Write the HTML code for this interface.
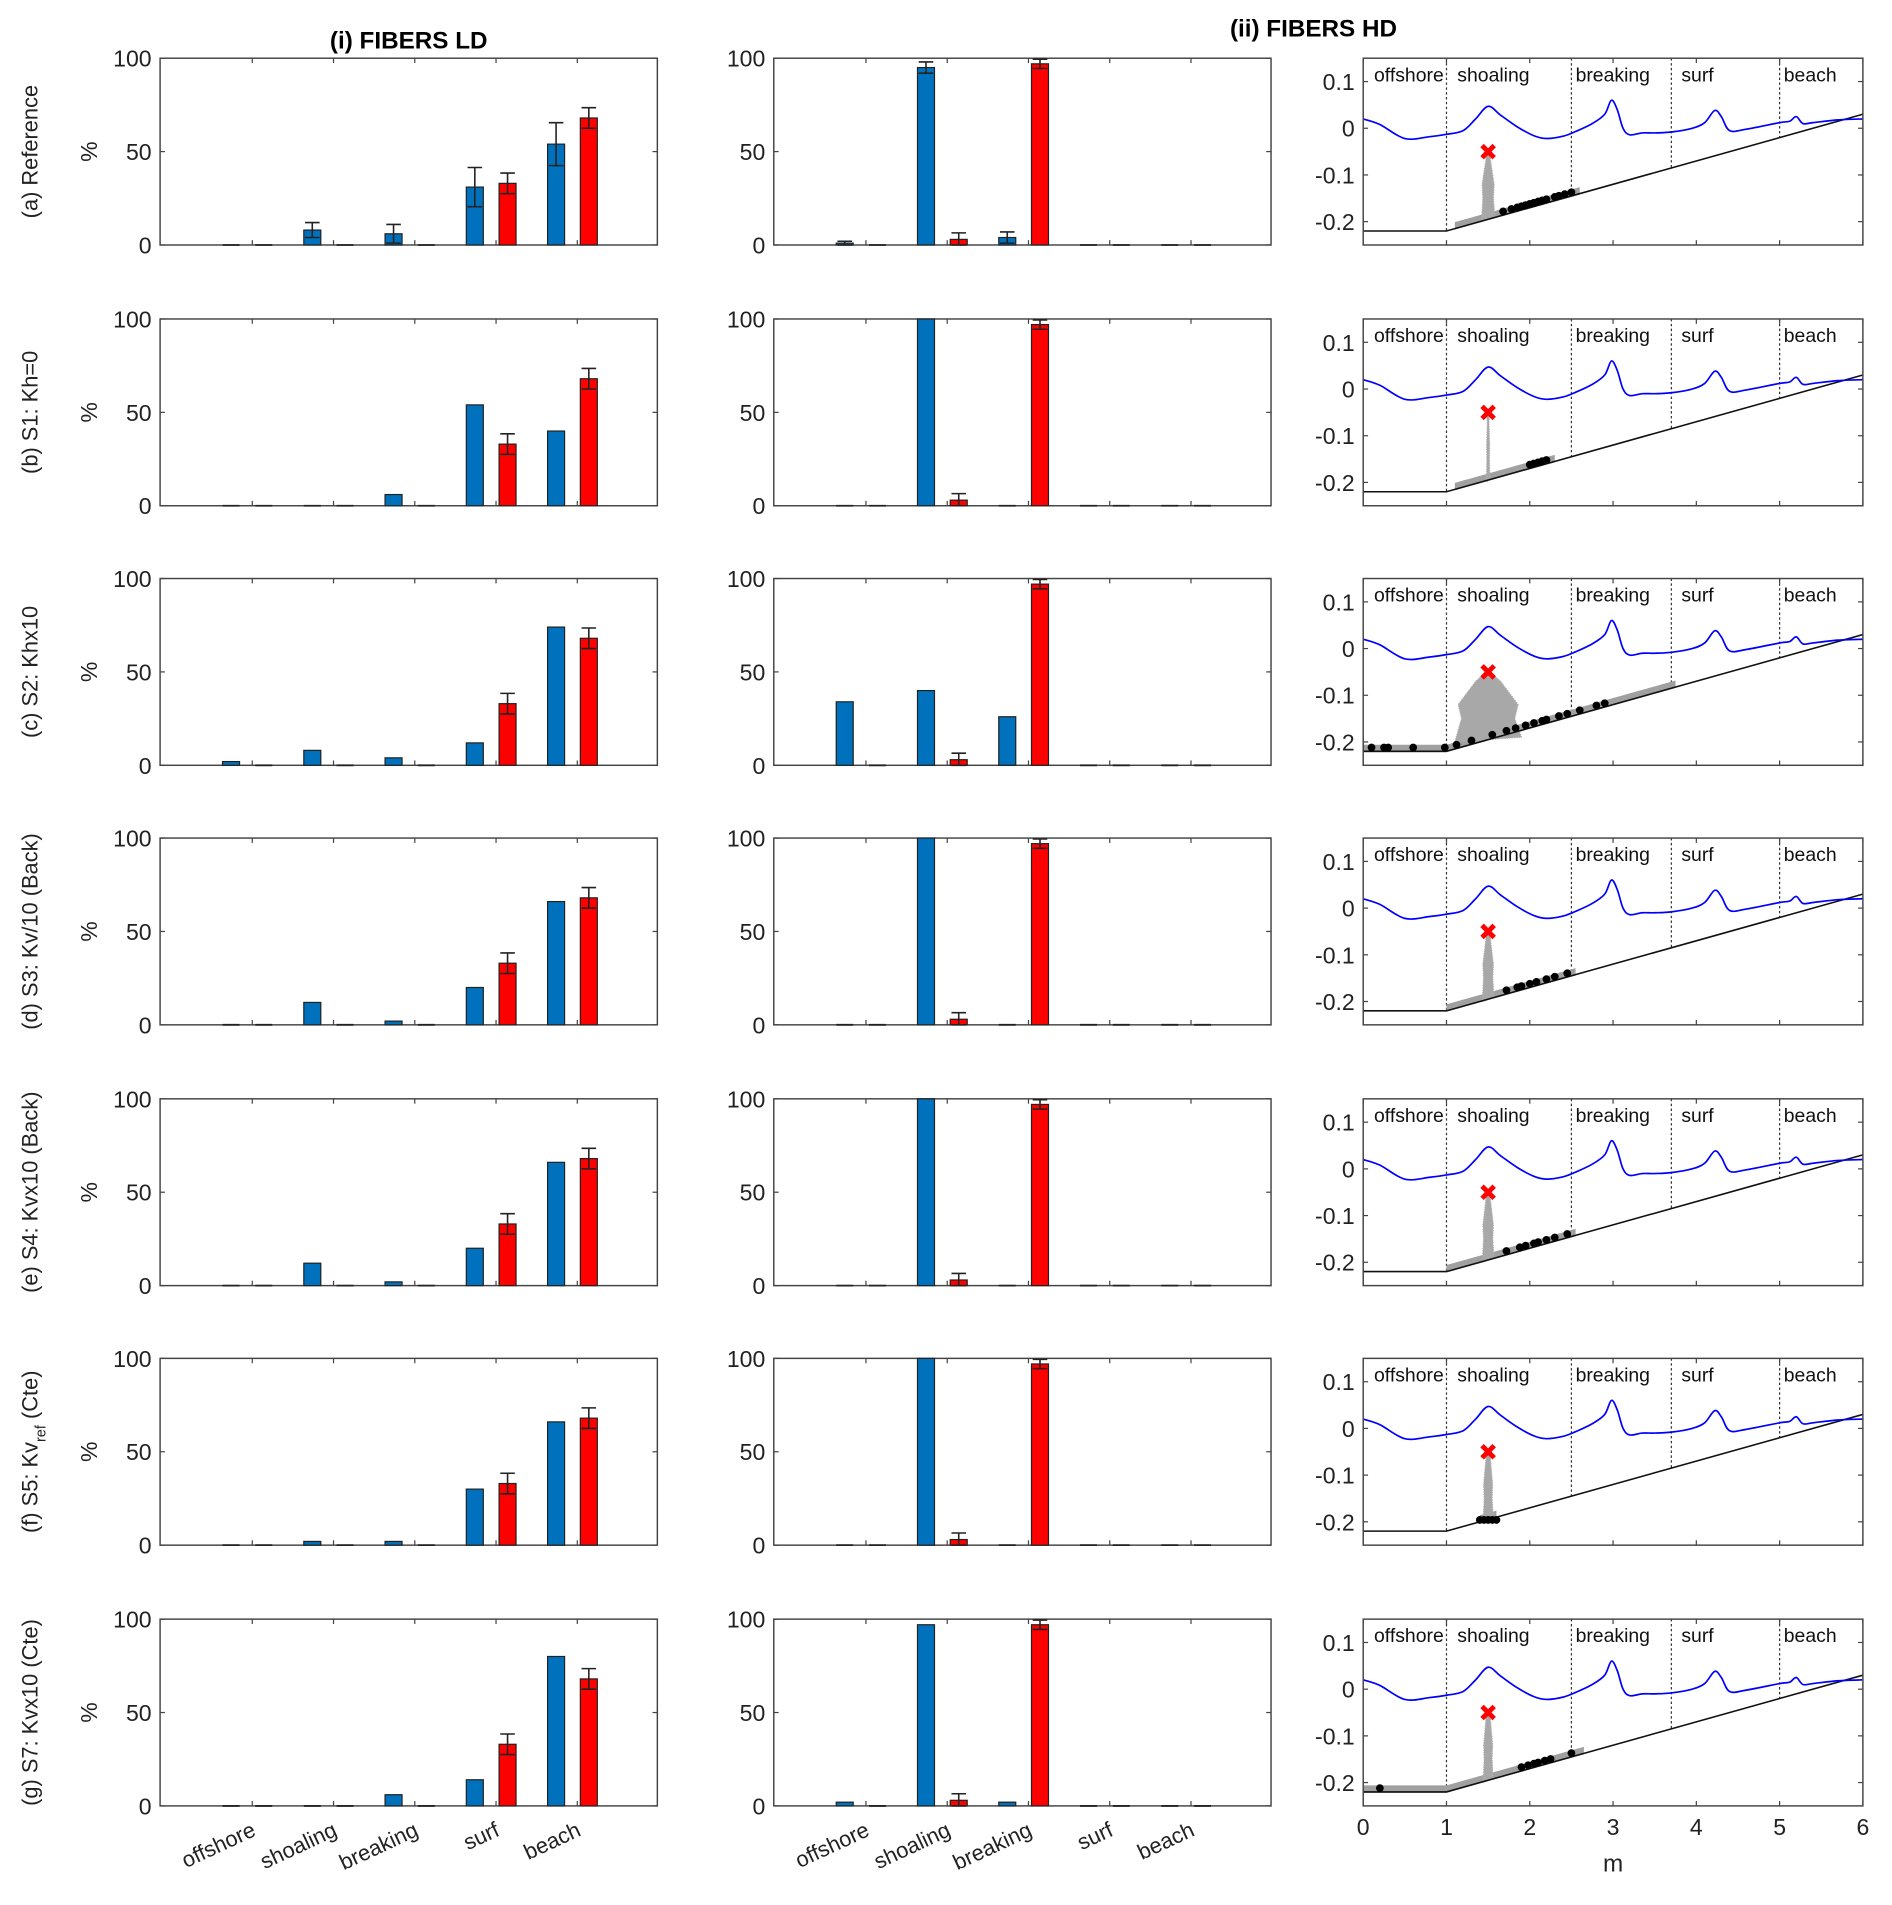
<!DOCTYPE html>
<html><head><meta charset="utf-8"><style>
html,body{margin:0;padding:0;background:#fff}
svg{display:block;font-family:"Liberation Sans",Arial,sans-serif}
</style></head><body>
<svg id="fig" width="1892" height="1905" viewBox="0 0 1560 1570.7" preserveAspectRatio="none" xmlns="http://www.w3.org/2000/svg"></svg>
<script>
// ---- data ----
const categories = ["offshore","shoaling","breaking","surf","beach"];
const rowLabels = ["(a) Reference","(b) S1: Kh=0","(c) S2: Khx10","(d) S3: Kv/10 (Back)","(e) S4: Kvx10 (Back)","(f) S5: Kv_ref (Cte)","(g) S7: Kvx10 (Cte)"];
const ldObs = [0,0,0,33,68];
const ldObsErr = [0,0,0,5.5,5.5];
const ldModel = [
 [0,8,6,31,54],[0,0,6,54,40],[2,8,4,12,74],[0,12,2,20,66],[0,12,2,20,66],[0,2,2,30,66],[0,0,6,14,80]];
const ldModelErr = [[0,4,5,10.5,11.5],[0,0,0,0,0],[0,0,0,0,0],[0,0,0,0,0],[0,0,0,0,0],[0,0,0,0,0],[0,0,0,0,0]];
const hdObs = [0,3,97,0,0];
const hdObsErr = [0,3.5,2.5,0,0];
const hdModel = [
 [1,95,4,0,0],[0,100,0,0,0],[34,40,26,0,0],[0,100,0,0,0],[0,100,0,0,0],[0,100,0,0,0],[2,97,2,0,0]];
const hdModelErr = [[1,3,3,0,0],[0,0,0,0,0],[0,0,0,0,0],[0,0,0,0,0],[0,0,0,0,0],[0,0,0,0,0],[0,0,0,0,0]];
const barTicks = [0,50,100];
const profTicksY = [0.1,0,-0.1,-0.2];
const profTicksX = [0,1,2,3,4,5,6];
const zoneBounds = [1,2.5,3.7,5];
const zoneNames = ["offshore","shoaling","breaking","surf","beach"];
const zoneLabelX = [0.13,1.13,2.55,3.82,5.05];
const waveX = [0,0.2,0.5,0.8,1,1.2,1.35,1.5,1.65,1.85,2.05,2.2,2.4,2.55,2.75,2.9,2.98,3.05,3.12,3.2,3.35,3.5,3.7,3.95,4.1,4.22,4.3,4.4,4.6,5.0,5.12,5.2,5.28,5.4,5.7,6];
const waveY = [0.02,0.008,-0.022,-0.018,-0.013,-0.005,0.02,0.047,0.028,0.003,-0.016,-0.022,-0.017,-0.007,0.01,0.03,0.06,0.04,0.0,-0.014,-0.01,-0.01,-0.008,0.0,0.012,0.038,0.025,-0.005,-0.002,0.012,0.015,0.025,0.01,0.012,0.018,0.02];
const bandStart = [1.1,1.1,0,1,1,1.4,0];
const bandEnd = [2.6,2.3,3.75,2.55,2.55,1.6,2.65];
const plumeHalfTop = [0.03,0.01,0.15,0.03,0.03,0.03,0.03];
const plumeHalfBot = [0.08,0.02,0.4,0.07,0.07,0.06,0.06];
const blackDots = [
 [1.68,1.78,1.85,1.9,1.95,2.0,2.05,2.1,2.15,2.2,2.3,2.35,2.42,2.5],
 [2.0,2.05,2.1,2.15,2.2],
 [0.1,0.25,0.3,0.6,0.98,1.12,1.3,1.55,1.72,1.83,1.95,2.05,2.15,2.2,2.35,2.45,2.6,2.8,2.9],
 [1.72,1.85,1.9,2.0,2.08,2.2,2.3,2.45],
 [1.72,1.88,1.95,2.05,2.1,2.2,2.3,2.45],
 [1.4,1.45,1.5,1.55,1.6],
 [0.2,1.9,1.98,2.05,2.1,2.18,2.25,2.5]];
const dropX = 1.5, dropY = -0.05;

// ---- layout ----
const svg = document.getElementById('fig');
const NS = 'http://www.w3.org/2000/svg';
function mk(tag, attrs, parent){const e=document.createElementNS(NS,tag);for(const k in attrs)e.setAttribute(k,attrs[k]);(parent||svg).appendChild(e);return e;}
const rowTop = [48,263,477,691,906,1120,1335];
const H = 154;
const col1L = 132, col2L = 638, colW = 410;
const col3L = 1124, col3W = 412;
const groupStep = 67, groupStart = 204, barOff = 13.5, barW = 14;

function barY(v, top){return top + H - v/100*H;}
function barGroupX(i, left){return left + (groupStart-132) + i*groupStep;}
function profX(x){return col3L + x/6*col3W;}
function profY(y, top){return top + (0.15 - y)/0.4*H;}
function bathy(x){return x<1 ? -0.22 : -0.22 + (x-1)*0.05;}
function smoothPath(pts){
  let d=`M${pts[0][0]},${pts[0][1]}`;
  for(let i=0;i<pts.length-1;i++){
    const p0=pts[Math.max(0,i-1)],p1=pts[i],p2=pts[i+1],p3=pts[Math.min(pts.length-1,i+2)];
    const c1x=p1[0]+(p2[0]-p0[0])/6,c1y=p1[1]+(p2[1]-p0[1])/6;
    const c2x=p2[0]-(p3[0]-p1[0])/6,c2y=p2[1]-(p3[1]-p1[1])/6;
    d+=`C${c1x},${c1y} ${c2x},${c2y} ${p2[0]},${p2[1]}`;
  }
  return d;
}

// titles
let t=mk('text',{x:337,y:40,'font-size':20,'font-weight':'bold','text-anchor':'middle'});t.textContent='(i) FIBERS LD';

t=mk('text',{x:1083,y:30,'font-size':20,'font-weight':'bold','text-anchor':'middle'});t.textContent='(ii) FIBERS HD';


function drawBar(g, cx, v, err, top, color, name){
  if(v<=0){
    const l=mk('line',{x1:cx-barW/2,x2:cx+barW/2,y1:top+H,y2:top+H,stroke:'#222','stroke-width':1.5},g);
    
  } else {
    const r=mk('rect',{x:cx-barW/2,y:barY(v,top),width:barW,height:barY(0,top)-barY(v,top),fill:color,stroke:'#222','stroke-width':1},g);
    
  }
  if(err>0){
    const y1=barY(Math.max(0,v-err),top), y2=barY(Math.min(100,v+err),top);
    const e=mk('path',{d:`M${cx},${y1}V${y2}M${cx-6},${y1}H${cx+6}M${cx-6},${y2}H${cx+6}`,stroke:'#222','stroke-width':1.3,fill:'none'},g);
    
  }
}

function barPanel(r, left, model, modelErr, obs, obsErr, tag){
  const top=rowTop[r];
  const g=mk('g',{});
  
  const ax=mk('rect',{x:left,y:top,width:colW,height:H,fill:'none',stroke:'#444','stroke-width':1.2},g);
  
  barTicks.forEach(v=>{
    const y=barY(v,top);
    mk('line',{x1:left,x2:left+4,y1:y,y2:y,stroke:'#444'},g);
    mk('line',{x1:left+colW,x2:left+colW-4,y1:y,y2:y,stroke:'#444'},g);
    const tl=mk('text',{x:left-7,y:y+7,'font-size':19,'text-anchor':'end',fill:'#222'},g);tl.textContent=v;
    
  });
  categories.forEach((c,i)=>{
    const cx=barGroupX(i,left);
    mk('line',{x1:cx+4,x2:cx+4,y1:top,y2:top+4,stroke:'#444'},g);
    mk('line',{x1:cx+4,x2:cx+4,y1:top+H,y2:top+H-4,stroke:'#444'},g);
    drawBar(g,cx-barOff,model[i],modelErr[i],top,'#0072BD','bar-model-'+c);
    drawBar(g,cx+barOff,obs[i],obsErr[i],top,'#FF0000','bar-obs-'+c);
    if(r===6){
      const xl=mk('text',{x:0,y:0,'font-size':18,'text-anchor':'end',fill:'#222',transform:`translate(${cx+8},${top+H+24}) rotate(-25)`},g);
      xl.textContent=c;
    }
  });
}

function profilePanel(r){
  const top=rowTop[r];
  const g=mk('g',{});
  
  const clipId='clip'+r;
  const cp=mk('clipPath',{id:clipId},g);mk('rect',{x:col3L,y:top,width:col3W,height:H},cp);
  const inner=mk('g',{'clip-path':`url(#${clipId})`},g);
  zoneBounds.forEach(b=>{
    const l=mk('line',{x1:profX(b),x2:profX(b),y1:top,y2:profY(bathy(b),top),stroke:'#333','stroke-width':1,'stroke-dasharray':'2,2'},inner);
    
  });
  zoneNames.forEach((n,i)=>{
    const tx=mk('text',{x:profX(zoneLabelX[i]),y:top+19,'font-size':16,fill:'#111'},g);tx.textContent=n;
    
  });
  const bs=bandStart[r], be=bandEnd[r];
  let pts=[];
  for(let x=bs;x<=be+1e-9;x+=0.05) pts.push(`${profX(x)},${profY(bathy(x)+0.014,top)}`);
  for(let x=be;x>=bs-1e-9;x-=0.05) pts.push(`${profX(x)},${profY(bathy(x)-0.002,top)}`);
  const band=mk('polygon',{points:pts.join(' '),fill:'#a0a0a0'},inner);
  
  const ht=plumeHalfTop[r], hb=plumeHalfBot[r];
  const ybot=bathy(dropX)+0.005;
  const plume=mk('polygon',{points:[
    [dropX-0.02,dropY],[dropX+0.02,dropY],[dropX+ht,dropY-0.02],[dropX+hb*0.9,dropY-0.07],[dropX+hb*0.8,ybot+0.04],[dropX+hb,ybot],
    [dropX-hb,ybot-0.01],[dropX-hb*0.8,ybot+0.04],[dropX-hb*0.9,dropY-0.07],[dropX-ht,dropY-0.02]
  ].map(p=>`${profX(p[0])},${profY(p[1],top)}`).join(' '),fill:'#a8a8a8',stroke:'#b0b0b0','stroke-width':1,'stroke-dasharray':'1,1'},inner);
  
  const bp=mk('polyline',{points:[0,1,6].map(x=>`${profX(x)},${profY(bathy(x),top)}`).join(' '),fill:'none',stroke:'#111','stroke-width':1.3},inner);
  
  const wp=mk('path',{d:smoothPath(waveX.map((x,i)=>[profX(x),profY(waveY[i],top)])),fill:'none',stroke:'#0000FF','stroke-width':1.4,'stroke-linejoin':'round'},inner);
  
  blackDots[r].forEach(x=>{
    const yy = r===5 ? -0.196 : bathy(x)+0.008;
    const d=mk('circle',{cx:profX(x),cy:profY(yy,top),r:3.2,fill:'#000'},inner);
    
  });
  const cx=profX(dropX), cy=profY(dropY,top);
  const xm=mk('path',{d:`M${cx-5},${cy-5}L${cx+5},${cy+5}M${cx-5},${cy+5}L${cx+5},${cy-5}`,stroke:'#FF0000','stroke-width':4},g);
  
  const ax=mk('rect',{x:col3L,y:top,width:col3W,height:H,fill:'none',stroke:'#444','stroke-width':1.2},g);
  
  profTicksY.forEach(v=>{
    const y=profY(v,top);
    mk('line',{x1:col3L,x2:col3L+4,y1:y,y2:y,stroke:'#444'},g);
    mk('line',{x1:col3L+col3W,x2:col3L+col3W-4,y1:y,y2:y,stroke:'#444'},g);
    const tl=mk('text',{x:col3L-7,y:y+7,'font-size':19,'text-anchor':'end',fill:'#222'},g);tl.textContent=v===0?'0':String(v);
    
  });
  profTicksX.forEach(v=>{
    const x=profX(v);
    mk('line',{x1:x,x2:x,y1:top,y2:top+4,stroke:'#444'},g);
    mk('line',{x1:x,x2:x,y1:top+H,y2:top+H-4,stroke:'#444'},g);
    if(r===6){
      const tl=mk('text',{x:x,y:top+H+24,'font-size':19,'text-anchor':'middle',fill:'#222'},g);tl.textContent=v;
      
    }
  });
}

for(let r=0;r<7;r++){
  barPanel(r,col1L,ldModel[r],ldModelErr[r],ldObs,ldObsErr,'ld');
  barPanel(r,col2L,hdModel[r],hdModelErr[r],hdObs,hdObsErr,'hd');
  profilePanel(r);
  const top=rowTop[r], cy=top+H/2;
  const rl=mk('text',{x:0,y:0,'font-size':18,'text-anchor':'middle',fill:'#222',transform:`translate(31,${cy}) rotate(-90)`});
  if(r===5){
    rl.innerHTML='(f) S5: Kv<tspan baseline-shift="sub" font-size="12">ref</tspan> (Cte)';
  } else rl.textContent=rowLabels[r];
  
  const pc=mk('text',{x:0,y:0,'font-size':19,'text-anchor':'middle',fill:'#222',transform:`translate(80,${cy}) rotate(-90)`});
  pc.textContent='%';
}
const mlab=mk('text',{x:1330,y:1543,'font-size':20,'text-anchor':'middle',fill:'#222'});
mlab.textContent='m';
</script>
</body></html>
